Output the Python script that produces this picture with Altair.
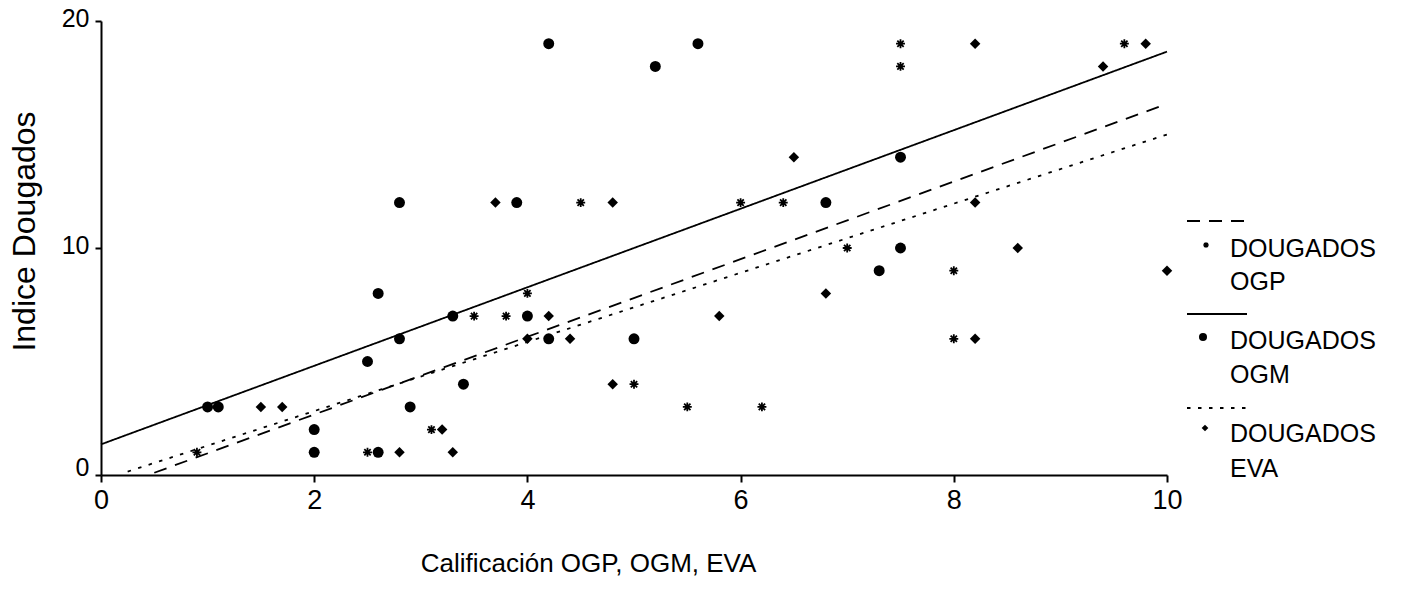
import altair as alt
import pandas as pd

# ---------------- data ----------------
ogp_x = [0.9, 2.5, 3.1, 3.5, 3.8, 4.0, 4.5, 5.0, 5.5, 6.0, 6.2, 6.4, 7.0, 7.5, 7.5, 8.0, 8.0, 9.6]
ogp_y = [1, 1, 2, 7, 7, 8, 12, 4, 3, 12, 3, 12, 10, 19, 18, 9, 6, 19]

ogm_x = [1.0, 1.1, 2.0, 2.0, 2.5, 2.6, 2.6, 2.8, 2.8, 2.9, 3.3, 3.4, 3.9, 4.0, 4.2, 4.2,
         5.0, 5.2, 5.6, 6.8, 7.3, 7.5, 7.5]
ogm_y = [3, 3, 2, 1, 5, 1, 8, 6, 12, 3, 7, 4, 12, 7, 6, 19, 6, 18, 19, 12, 9, 14, 10]

eva_x = [1.5, 1.7, 2.8, 3.2, 3.3, 3.7, 4.0, 4.2, 4.4, 4.8, 4.8, 5.8, 6.5, 6.8, 8.2, 8.2,
         8.2, 8.6, 9.4, 9.8, 10.0]
eva_y = [3, 3, 1, 2, 1, 12, 6, 7, 6, 12, 4, 7, 14, 8, 19, 12, 6, 10, 18, 19, 9]

# fitted lines (end points)
line_series = ["OGP", "OGM", "EVA"]
line_x0 = [0.5, 0.0, 0.25]
line_y0 = [0.1, 1.35, 0.15]
line_x1 = [10.0, 10.0, 10.0]
line_y1 = [16.35, 18.65, 15.0]

x_ticks = [0, 2, 4, 6, 8, 10]
y_ticks = [0, 10, 20]
x_title = "Calificación OGP, OGM, EVA"
y_title = "Indice Dougados"
legend_head = ["DOUGADOS", "DOUGADOS", "DOUGADOS"]
legend_tail = ["OGP", "OGM", "EVA"]

# ---------------- build ----------------
FONT = "Liberation Sans"
W, H = 1066, 454
PAD = {"left": 101, "top": 21, "right": 236, "bottom": 120}

ogp = pd.DataFrame({"x": ogp_x, "y": ogp_y})
ogm = pd.DataFrame({"x": ogm_x, "y": ogm_y})
eva = pd.DataFrame({"x": eva_x, "y": eva_y})
lines = pd.DataFrame({"serie": line_series, "x": line_x0, "y": line_y0,
                      "x2": line_x1, "y2": line_y1})
one = pd.DataFrame({"k": [0]})

xscale = alt.Scale(domain=[0, 10], nice=False, zero=False)
yscale = alt.Scale(domain=[0, 20], nice=False)

x_axis = alt.Axis(
    values=x_ticks, title=x_title, grid=False,
    domainColor="black", domainWidth=2, tickColor="black", tickWidth=2, tickSize=7,
    labelFont=FONT, labelFontSize=27, labelColor="black", labelBaseline="alphabetic",
    labelPadding=26, labelFlush=False,
    titleFont=FONT, titleFontSize=26, titleFontWeight="normal", titleColor="black",
    titleX=487, titleY=96, titleBaseline="alphabetic", titleAlign="center",
)
y_axis = alt.Axis(
    values=y_ticks, title=y_title, grid=False,
    domainColor="black", domainWidth=2, tickColor="black", tickWidth=2, tickSize=6,
    labelFont=FONT, labelFontSize=25, labelColor="black", labelPadding=6,
    labelFlush=False,
    labelOffset={"condition": {"test": "datum.value == 0", "value": -8}, "value": -3},
    titleFont=FONT, titleFontSize=32, titleFontWeight="normal", titleColor="black",
    titleX=-77, titleY=210, titleBaseline="middle", titleAlign="center", titleAngle=-90,
)

X = alt.X("x:Q", scale=xscale, axis=x_axis)
Y = alt.Y("y:Q", scale=yscale, axis=y_axis)

star_path = "M0,-1L0,1M-1,0L1,0M-0.71,-0.71L0.71,0.71M-0.71,0.71L0.71,-0.71"

stars = alt.Chart(ogp).mark_point(
    shape=star_path, filled=False, stroke="black", strokeWidth=1.8, size=80, opacity=1
).encode(x=X, y=Y)
circles = alt.Chart(ogm).mark_circle(size=120, color="black", opacity=1).encode(x=X, y=Y)
diamonds = alt.Chart(eva).mark_point(
    shape="diamond", filled=True, color="black", size=110, opacity=1
).encode(x=X, y=Y)

dash_styles = {"OGP": [13, 9], "OGM": [1, 0], "EVA": [3.5, 7.5]}
line_layers = []
for s in line_series:
    line_layers.append(
        alt.Chart(lines).transform_filter(alt.datum.serie == s).mark_rule(
            color="black", strokeWidth=1.8, strokeDash=dash_styles[s]
        ).encode(x=X, y=Y, x2="x2:Q", y2="y2:Q")
    )

# ---------------- legend (drawn to the right of the plot) ----------------
leg = []
leg_line_y = [200, 293, 387]
leg_sym_y = [224, 316, 407]
leg_text_y = [(236, 269), (328, 362), (421, 456)]
for i, s in enumerate(line_series):
    leg.append(alt.Chart(one).mark_rule(
        color="black", strokeWidth=1.8, strokeDash=dash_styles[s]
    ).encode(x=alt.value(1086), x2=alt.value(1146), y=alt.value(leg_line_y[i])))
    leg.append(alt.Chart(one).mark_text(
        text=legend_head[i], align="left", baseline="alphabetic",
        font=FONT, fontSize=25, color="black"
    ).encode(x=alt.value(1129), y=alt.value(leg_text_y[i][0])))
    leg.append(alt.Chart(one).mark_text(
        text=legend_tail[i], align="left", baseline="alphabetic",
        font=FONT, fontSize=25, color="black"
    ).encode(x=alt.value(1129), y=alt.value(leg_text_y[i][1])))

leg.append(alt.Chart(one).mark_point(
    shape=star_path, filled=False, stroke="black", strokeWidth=1.4, size=30, opacity=1
).encode(x=alt.value(1105), y=alt.value(leg_sym_y[0])))
leg.append(alt.Chart(one).mark_circle(size=65, color="black", opacity=1)
           .encode(x=alt.value(1102), y=alt.value(leg_sym_y[1])))
leg.append(alt.Chart(one).mark_point(
    shape="diamond", filled=True, color="black", size=45, opacity=1
).encode(x=alt.value(1104), y=alt.value(leg_sym_y[2])))

chart = alt.layer(*line_layers, stars, circles, diamonds, *leg).properties(
    width=W, height=H, padding=PAD,
    autosize=alt.AutoSizeParams(type="none"),
    background="white",
).configure_view(stroke=None)

chart.save("out.html", embed_options={"renderer": "svg", "actions": False})
